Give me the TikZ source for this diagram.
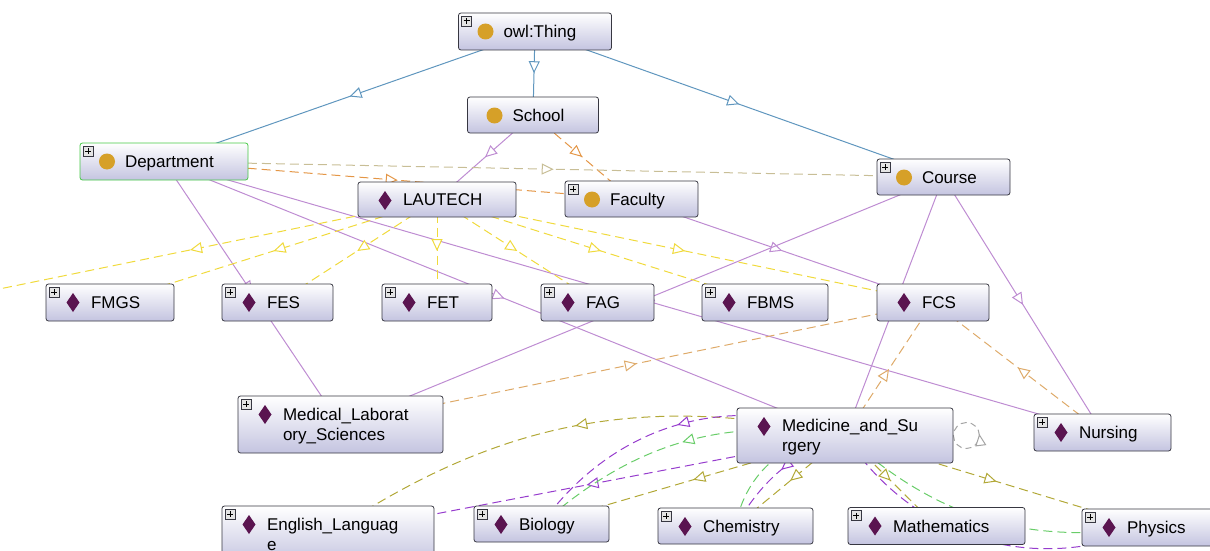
\documentclass[tikz,border=0pt]{standalone}
\usepackage{fontspec}
\setmainfont{Liberation Sans}
\usepackage{tikz}
\usetikzlibrary{arrows.meta}
\usetikzlibrary{decorations.markings}
\usetikzlibrary{backgrounds}

\definecolor{boxline}{RGB}{55,55,65}
\definecolor{boxlow}{RGB}{196,196,224}
\definecolor{deptgreen}{RGB}{70,200,70}
\definecolor{clsgold}{RGB}{214,160,40}
\definecolor{indpurple}{RGB}{90,20,80}
\definecolor{plusgrey}{RGB}{228,228,228}
\definecolor{isablue}{RGB}{95,150,190}
\definecolor{instlilac}{RGB}{190,140,210}
\definecolor{relyellow}{RGB}{240,218,60}
\definecolor{relorange}{RGB}{228,150,70}
\definecolor{reltan}{RGB}{222,170,105}
\definecolor{relsand}{RGB}{200,190,150}
\definecolor{relolive}{RGB}{178,168,55}
\definecolor{relgreen}{RGB}{105,205,105}
\definecolor{relviolet}{RGB}{150,60,205}
\definecolor{loopgrey}{RGB}{165,165,165}

\newcommand{\entname}[1]{\hspace*{45pt}\rule{0pt}{18.4pt}\begin{tabular}[t]{@{}l@{}}#1\end{tabular}}
\newcommand{\clsmark}{\fill[clsgold] ([shift={(27pt,-18.5pt)}]path picture bounding box.north west) circle (8pt);}
\newcommand{\indmark}{\fill[indpurple, sharp corners] ([shift={(27pt,-9pt)}]path picture bounding box.north west) -- ++(6.5pt,-9.5pt) -- ++(-6.5pt,-9.5pt) -- ++(-6.5pt,9.5pt) -- cycle;}
\newcommand{\plusmark}{\filldraw[fill=plusgrey, draw=boxline, line width=0.6pt, sharp corners] ([shift={(3pt,-3pt)}]path picture bounding box.north west) rectangle ++(10pt,-10pt);
  \draw[black, line width=1pt, sharp corners] ([shift={(8pt,-5pt)}]path picture bounding box.north west) -- ++(0pt,-6pt) ([shift={(5pt,-8pt)}]path picture bounding box.north west) -- ++(6pt,0pt);}

\begin{document}
\begin{tikzpicture}[x=1pt, y=-1pt,
  ent/.style={draw=boxline, line width=0.8pt, rounded corners=2.5pt, top color=white, bottom color=boxlow, font=\fontsize{17}{20.5}\selectfont, inner xsep=0pt, inner ysep=2pt, minimum height=37pt, align=left},
  cls/.style={ent, path picture={\clsmark}},
  clsx/.style={ent, path picture={\clsmark\plusmark}},
  ind/.style={ent, path picture={\indmark}},
  indx/.style={ent, path picture={\indmark\plusmark}},
  mid/.style={postaction={decorate, decoration={markings, mark=at position #1 with {\pgfsetdash{}{0pt}\arrow{Triangle[length=12pt, width=11pt, fill=white]}}}}},
  mid/.default=0.5,
  isa/.style={isablue, line width=1pt, mid},
  inst/.style={instlilac, line width=1pt, mid},
  rel/.style={line width=1pt, dash pattern=on 9pt off 5pt, mid}]
\useasboundingbox (0,0) rectangle (1210,551);
\node[clsx, text width=153pt] (C0) at (535,31.5) {\entname{owl:Thing}};
\node[cls, text width=131pt, minimum height=36pt] (C1) at (533,115) {\entname{School}};
\node[clsx, text width=168pt, draw=deptgreen] (C2) at (164,161.5) {\entname{Department}};
\node[clsx, text width=133pt, minimum height=36pt] (C3) at (943.5,177) {\entname{Course}};
\node[clsx, text width=133pt, minimum height=36pt] (C4) at (631.5,199) {\entname{Faculty}};
\node[ind, text width=158pt, minimum height=35pt] (I1) at (437,199.5) {\entname{LAUTECH}};
\node[indx, text width=128pt] (I2) at (110,302.5) {\entname{FMGS}};
\node[indx, text width=111pt] (I3) at (277.5,302.5) {\entname{FES}};
\node[indx, text width=110pt] (I4) at (437,302.5) {\entname{FET}};
\node[indx, text width=113pt] (I5) at (597.5,302.5) {\entname{FAG}};
\node[indx, text width=126pt] (I6) at (765,302.5) {\entname{FBMS}};
\node[ind, text width=112pt] (I7) at (933,302.5) {\entname{FCS}};
\node[indx, text width=205pt, minimum height=57pt] (I8) at (340.5,424.5) {\entname{Medical\_Laborat\\ory\_Sciences}};
\node[ind, text width=216pt, minimum height=55pt] (I9) at (845,435.5) {\entname{Medicine\_and\_Su\\rgery}};
\node[indx, text width=137pt] (I10) at (1102.5,432.5) {\entname{Nursing}};
\node[indx, text width=212pt, minimum height=57pt] (I11) at (328,534.5) {\entname{English\_Languag\\e}};
\node[indx, text width=135pt, minimum height=36pt] (I12) at (541.5,524) {\entname{Biology}};
\node[indx, text width=155pt, minimum height=36pt] (I13) at (735.5,526) {\entname{Chemistry}};
\node[indx, text width=177pt] (I14) at (936.5,526) {\entname{Mathematics}};
\node[indx, text width=132pt] (I15) at (1148,527.5) {\entname{Physics}};
\coordinate (X0) at (-57,300.5);
\begin{scope}[on background layer]
\draw[isa] (C0.center) -- (C2.center);
\draw[isa] (C0.center) -- (C1.center);
\draw[isa] (C0.center) -- (C3.center);
\draw[inst] (C1.center) -- (I1.center);
\draw[inst] (C2.center) -- (I8.center);
\draw[inst] (C2.center) -- (I9.center);
\draw[inst] (C2.center) -- (I10.center);
\draw[inst] (C4.center) -- (I7.center);
\draw[inst] (C3.center) -- (I8.center);
\draw[inst] (C3.center) -- (I9.center);
\draw[inst] (C3.center) -- (I10.center);
\draw[rel, relorange] (C1.center) -- (C4.center);
\draw[rel, relorange] (C2.center) -- (C4.center);
\draw[rel, relsand] (C2.center) -- (C3.center);
\foreach \t in {X0,I2,I3,I4,I5,I6,I7}
  \draw[rel, relyellow] (I1.center) -- (\t.center);
\foreach \s in {I8,I9,I10}
  \draw[rel, reltan] (\s.center) -- (I7.center);
\draw[rel, relviolet] (I9.center) -- (I11.center);
\draw[rel, relolive] (I9.center) to[bend right=23] (I11.center);
\draw[rel, relolive] (I9.center) -- (I12.center);
\draw[rel, relgreen] (I9.center) to[bend right=25] (I12.center);
\draw[rel, relviolet] (I9.center) to[bend right=38] (I12.center);
\draw[rel, relolive] (I9.center) -- (I13.center);
\draw[rel, relviolet] (I9.center) to[bend right=20] (I13.center);
\draw[rel, relgreen] (I9.center) to[bend right=40] (I13.center);
\draw[rel, relolive] (I9.center) -- (I14.center);
\draw[rel, relolive] (I9.center) -- (I15.center);
\draw[rel, relgreen] (I9.center) to[bend right=25] (I15.center);
\draw[rel, relviolet] (I9.center) to[bend right=40] (I15.center);
\draw[loopgrey, line width=1pt, dash pattern=on 6pt off 4pt, mid=0.02] ([xshift=13pt]I9.east) circle (13pt);
\end{scope}
\end{tikzpicture}
\end{document}
